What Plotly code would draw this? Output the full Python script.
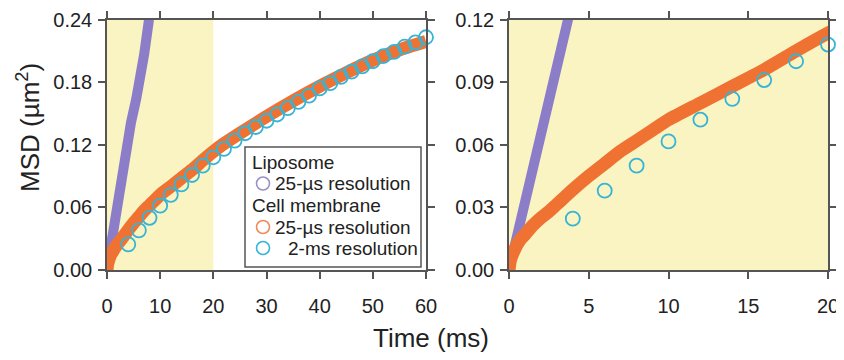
import plotly.graph_objects as go

# ---- data ----
lipo_t = [0, 0.9, 1.7, 2.4, 3.0, 3.7, 4.5, 5.5, 6.2, 7.0, 7.9]
lipo_msd = [0, 0.030, 0.058, 0.080, 0.099, 0.120, 0.141, 0.164, 0.182, 0.207, 0.240]

cell25_t = [0, 0.1, 0.25, 0.5, 0.75, 1, 1.5, 2, 2.5, 3, 3.5, 4, 5, 6, 7, 8, 9, 10,
            12, 14, 16, 18, 20, 22, 25, 30, 35, 40, 45, 50, 55, 60]
cell25_msd = [0, 0.005, 0.008, 0.012, 0.015, 0.017, 0.0214, 0.025, 0.028, 0.0315, 0.035,
              0.0385, 0.045, 0.051, 0.057, 0.062, 0.067, 0.072,
              0.080, 0.088, 0.096, 0.105, 0.1135, 0.121, 0.131, 0.147, 0.162, 0.176,
              0.189, 0.201, 0.211, 0.219]

cell2_t = [4, 6, 8, 10, 12, 14, 16, 18, 20, 22, 24, 26, 28, 30, 32, 34, 36, 38, 40,
           42, 44, 46, 48, 50, 52, 54, 56, 58, 60]
cell2_msd = [0.0246, 0.038, 0.050, 0.0616, 0.072, 0.082, 0.091, 0.100, 0.108, 0.116, 0.124,
             0.131, 0.137, 0.143, 0.149, 0.155, 0.161, 0.167, 0.174, 0.179, 0.185, 0.190,
             0.195, 0.200, 0.205, 0.209, 0.214, 0.218, 0.223]

left_xticks = [0, 10, 20, 30, 40, 50, 60]
left_yticks = [0.00, 0.06, 0.12, 0.18, 0.24]
right_xticks = [0, 5, 10, 15, 20]
right_yticks = [0.00, 0.03, 0.06, 0.09, 0.12]

legend_rows = [
    ("Liposome", None, None),
    ("25-µs resolution", "#9a90c8", "lipo"),
    ("Cell membrane", None, None),
    ("25-µs resolution", "#f08a58", "cell25"),
    ("2-ms resolution", "#36b4d6", "cell2"),
]

# ---- styles ----
PURPLE = "#8c7dc9"
ORANGE = "#f07232"
CYAN = "#36b4d6"
YELLOW = "#faf4c2"
AXC = "#555555"
FONT = "Liberation Sans, Arial, sans-serif"
TXT = "#222222"
W, H = 844, 360
OFF = 8  # page body margin of the html page


def px(x):
    return (x - OFF) / W


def py(y):
    return (H - (y - OFF)) / H


fig = go.Figure()

for xa, ya in (("x", "y"), ("x2", "y2")):
    fig.add_trace(go.Scatter(x=lipo_t, y=lipo_msd, mode="lines", xaxis=xa, yaxis=ya,
                             line=dict(color=PURPLE, width=10),
                             showlegend=False))
    fig.add_trace(go.Scatter(x=cell25_t, y=cell25_msd, mode="lines", xaxis=xa, yaxis=ya,
                             line=dict(color=ORANGE, width=13, shape="spline", smoothing=0.6),
                             showlegend=False))
    fig.add_trace(go.Scatter(x=cell2_t, y=cell2_msd, mode="markers", xaxis=xa, yaxis=ya,
                             cliponaxis=False,
                             marker=dict(symbol="circle-open", size=14, color=CYAN,
                                         line=dict(width=1.8, color=CYAN)),
                             showlegend=False))

# shaded regions
fig.add_shape(type="rect", xref="x", yref="y domain", x0=0, x1=20, y0=0, y1=1,
              fillcolor=YELLOW, line_width=0, layer="below")
fig.add_shape(type="rect", xref="x2 domain", yref="y2 domain", x0=0, x1=1, y0=0, y1=1,
              fillcolor=YELLOW, line_width=0, layer="below")

# legend box (drawn as shapes + text)
fig.add_shape(type="rect", xref="paper", yref="paper",
              x0=px(245), x1=px(421), y0=py(267), y1=py(147),
              fillcolor="white", line=dict(color=AXC, width=1.5), layer="above")

annotations = []
row_y = [162, 183.5, 205.5, 227, 248]
for (label, col, key), yy in zip(legend_rows, row_y):
    if col is None:
        annotations.append(dict(text=label, xref="paper", yref="paper", x=px(251), y=py(yy),
                                xanchor="left", yanchor="middle", showarrow=False,
                                borderpad=0,
                                font=dict(family=FONT, size=19, color=TXT)))
    else:
        fig.add_shape(type="circle", xref="paper", yref="paper",
                      xsizemode="pixel", ysizemode="pixel",
                      xanchor=px(263), yanchor=py(yy), x0=-6.5, x1=6.5, y0=-6.5, y1=6.5,
                      fillcolor="rgba(0,0,0,0)", line=dict(color=col, width=1.6),
                      layer="above")
        tx = 287 if key == "cell2" else 274
        annotations.append(dict(text=label, xref="paper", yref="paper", x=px(tx), y=py(yy),
                                xanchor="left", yanchor="middle", showarrow=False,
                                borderpad=0,
                                font=dict(family=FONT, size=19, color=TXT)))

annotations += [
    dict(text="MSD (µm<sup>2</sup>)", xref="paper", yref="paper", x=px(28), y=py(128),
         xanchor="center", yanchor="middle", textangle=-90, showarrow=False,
         font=dict(family=FONT, size=26, color=TXT)),
    dict(text="Time (ms)", xref="paper", yref="paper", x=px(431), y=py(338),
         xanchor="center", yanchor="middle", showarrow=False,
         font=dict(family=FONT, size=26, color=TXT)),
]

axis_common = dict(showline=True, linecolor=AXC, linewidth=1.5, mirror="ticks",
                   ticks="outside", ticklen=7, tickwidth=1.5, tickcolor=AXC,
                   showgrid=False, zeroline=False, automargin=False,
                   tickfont=dict(family=FONT, size=20, color=TXT))

ydom = [py(270), py(19.5)]

fig.update_layout(
    width=W, height=H,
    margin=dict(l=0, r=0, t=0, b=0),
    paper_bgcolor="white", plot_bgcolor="white",
    showlegend=False,
    xaxis=dict(domain=[px(107), px(426)], range=[0, 60], tickvals=left_xticks,
               ticklabelstandoff=10, **axis_common),
    yaxis=dict(domain=ydom, range=[0, 0.24], tickvals=left_yticks, tickformat=".2f",
               ticklabelstandoff=2, **axis_common),
    xaxis2=dict(domain=[px(509), px(828)], range=[0, 20], tickvals=right_xticks,
                anchor="y2", ticklabelstandoff=10, **axis_common),
    yaxis2=dict(domain=ydom, range=[0, 0.12], tickvals=right_yticks, tickformat=".2f",
                anchor="x2", ticklabelstandoff=2, **axis_common),
    annotations=annotations,
)

fig.write_html("out.html")
